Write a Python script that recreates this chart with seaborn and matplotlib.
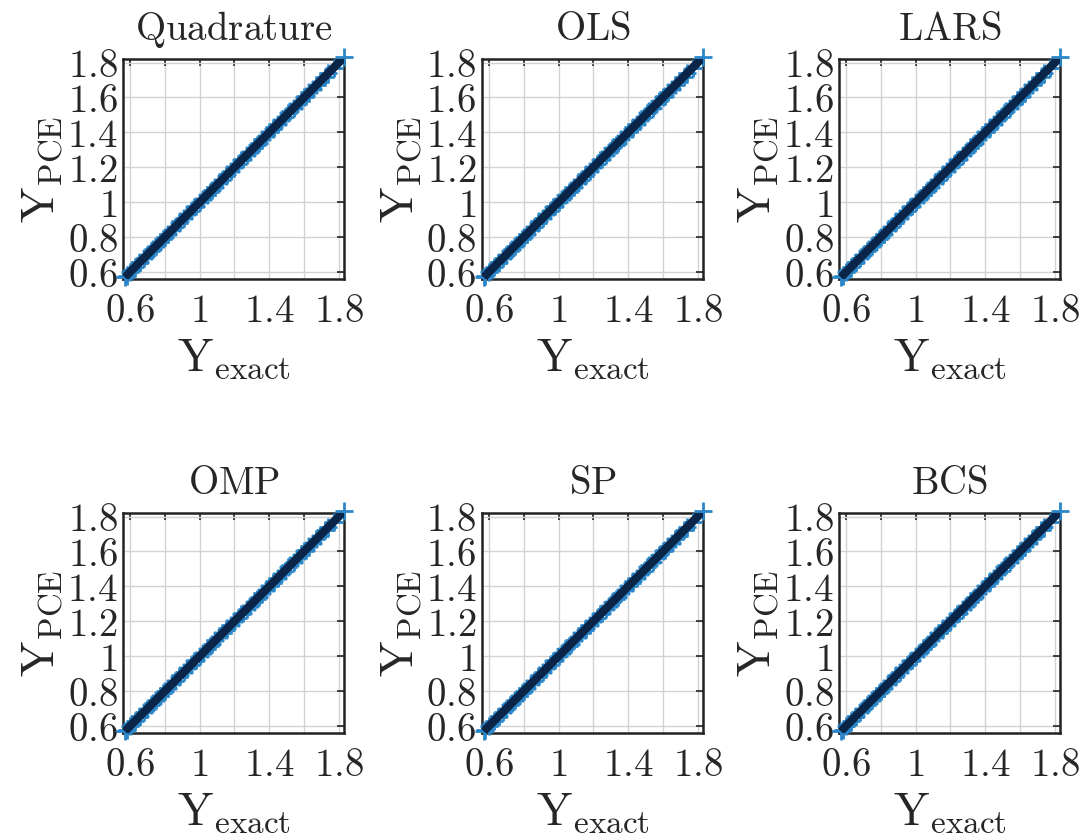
import matplotlib
matplotlib.use("Agg")
import matplotlib.pyplot as plt
from matplotlib.ticker import FixedLocator, FuncFormatter
import pandas as pd
import seaborn as sns

# Surrogate methods compared against the exact model response
methods = ["Quadrature", "OLS", "LARS", "OMP", "SP", "BCS"]

# Validation samples of the exact model response
y_exact = [0.57, 0.58, 0.60, 0.61, 0.63, 0.65, 0.66, 0.68, 0.70, 0.72,
           0.73, 0.75, 0.77, 0.79, 0.80, 0.82, 0.84, 0.86, 0.88, 0.89,
           0.91, 0.93, 0.95, 0.97, 0.98, 1.00, 1.02, 1.04, 1.06, 1.07,
           1.09, 1.11, 1.13, 1.15, 1.16, 1.18, 1.20, 1.22, 1.24, 1.25,
           1.27, 1.29, 1.31, 1.33, 1.34, 1.36, 1.38, 1.40, 1.42, 1.43,
           1.45, 1.47, 1.49, 1.51, 1.52, 1.54, 1.56, 1.58, 1.60, 1.61,
           1.63, 1.65, 1.67, 1.69, 1.72, 1.74, 1.77, 1.83]

# PCE predictions for each method (all lie on the identity line)
y_pce_quadrature = list(y_exact)
y_pce_ols = list(y_exact)
y_pce_lars = list(y_exact)
y_pce_omp = list(y_exact)
y_pce_sp = list(y_exact)
y_pce_bcs = list(y_exact)
predictions = [y_pce_quadrature, y_pce_ols, y_pce_lars,
               y_pce_omp, y_pce_sp, y_pce_bcs]

ticks = [0.6, 0.8, 1.0, 1.2, 1.4, 1.6, 1.8]
x_labelled = [0.6, 1.0, 1.4, 1.8]

sns.set_style("white")
plt.rcParams["mathtext.fontset"] = "cm"
plt.rcParams["font.family"] = ["DejaVu Serif"]

fig = plt.figure(figsize=(10.85, 8.38), dpi=100)

col_left = [0.1134, 0.4442, 0.7733]
row_bottom = [0.667, 0.1253]
w, h = 0.2037, 0.2625

lo, hi = min(y_exact), max(y_exact)


def fmt_x(v, pos):
    if any(abs(v - t) < 1e-6 for t in x_labelled):
        return r"$\mathrm{%g}$" % round(v, 1)
    return ""


def fmt_y(v, pos):
    return r"$\mathrm{%g}$" % round(v, 1)


for i, (name, pred) in enumerate(zip(methods, predictions)):
    r, c = divmod(i, 3)
    ax = fig.add_axes([col_left[c], row_bottom[r], w, h])
    df = pd.DataFrame({"exact": y_exact, "pce": pred})
    sns.scatterplot(data=df, x="exact", y="pce", marker="+", s=180,
                    color="#2a86c8", linewidth=2.0, ax=ax, clip_on=False,
                    zorder=3)
    line = pd.DataFrame({"exact": [lo, hi], "pce": [lo, hi]})
    sns.lineplot(data=line, x="exact", y="pce", color="#0a2548",
                 linewidth=6.0, ax=ax, zorder=4, solid_capstyle="butt")
    ax.set_xlim(lo - 0.01, hi)
    ax.set_ylim(lo - 0.01, hi - 0.01)
    ax.xaxis.set_major_locator(FixedLocator(ticks))
    ax.yaxis.set_major_locator(FixedLocator(ticks))
    ax.xaxis.set_major_formatter(FuncFormatter(fmt_x))
    ax.yaxis.set_major_formatter(FuncFormatter(fmt_y))
    ax.grid(True, color="#d2d2d2", linewidth=1.0)
    ax.set_axisbelow(True)
    ax.tick_params(direction="in", length=5, width=1.2, color="#222222",
                   top=True, right=True, labelsize=28, pad=4)
    ax.tick_params(axis="x", pad=10)
    for sp in ax.spines.values():
        sp.set_visible(True)
        sp.set_color("#222222")
        sp.set_linewidth(1.8)
    ax.set_title(r"$\mathrm{%s}$" % name, fontsize=28, pad=14)
    ax.set_xlabel(r"$\mathrm{Y}_{\mathrm{exact}}$", fontsize=34, labelpad=4)
    ax.set_ylabel(r"$\mathrm{Y}_{\mathrm{PCE}}$", fontsize=34, labelpad=2)

fig.savefig("out.png", dpi=100, facecolor="white")
